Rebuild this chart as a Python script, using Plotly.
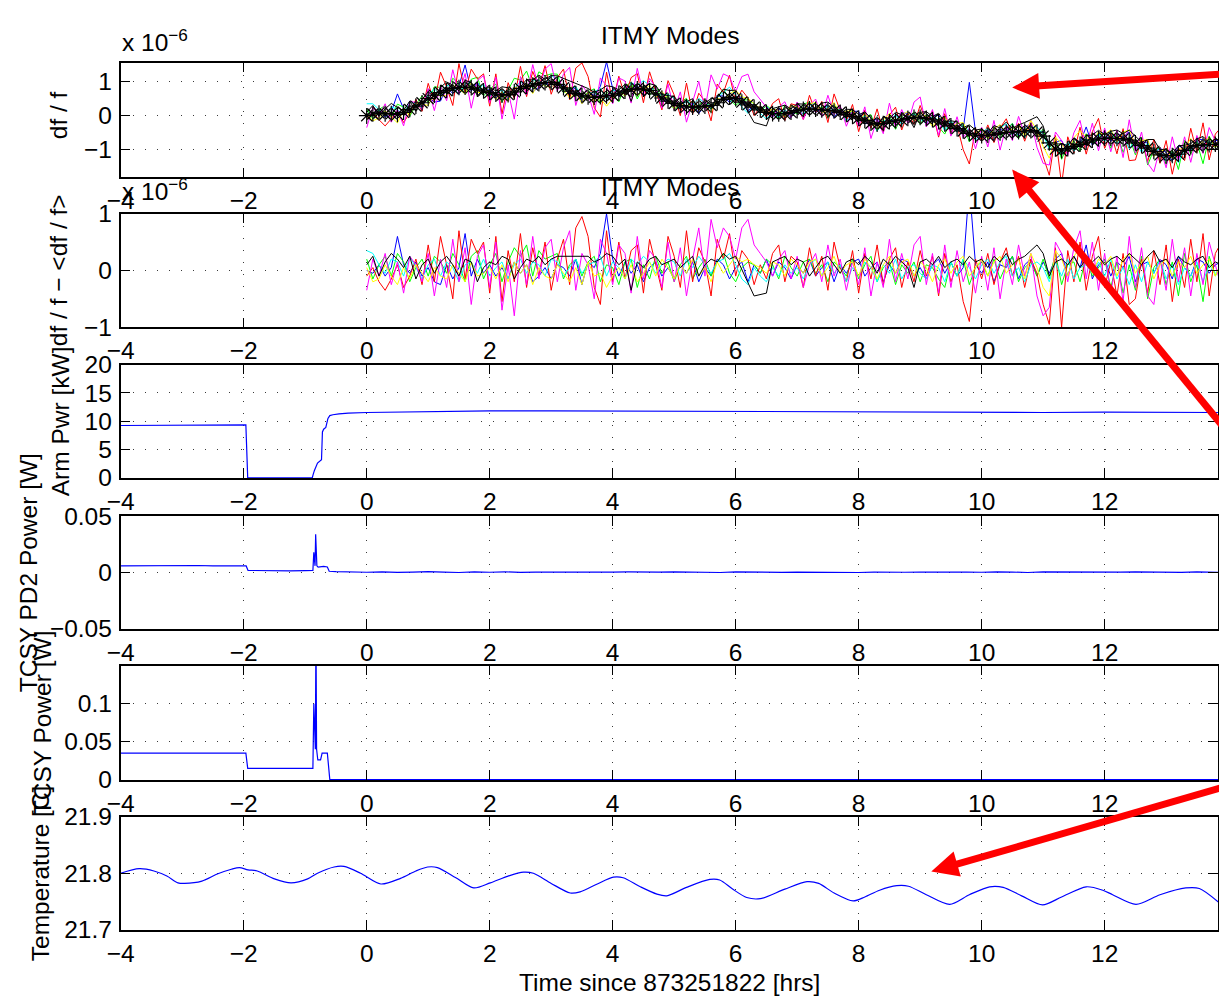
import plotly.graph_objects as go

# The page is captured with a small offset/scale; geometry below is given in
# reference-picture pixels and mapped to figure pixels with this affine fit.
SCALE_X, OFF_X = 0.9884, 13.3
SCALE_Y, OFF_Y = 0.9743, 12.4
W, H = 1220, 1011
FONT = "Liberation Sans, Arial, Helvetica, sans-serif"
FS = 24.5

# ---------------- data ----------------
T_MODES = [round(0.1 * i, 1) for i in range(140)]  # hrs

# mean df/f (units of 1e-6), black asterisk trace
MEAN_DFF = [
    0.00, 0.05, 0.08, 0.05, 0.06, 0.04, 0.10, 0.18, 0.28, 0.38,
    0.50, 0.60, 0.68, 0.74, 0.80, 0.83, 0.84, 0.82, 0.78, 0.73,
    0.68, 0.63, 0.60, 0.62, 0.70, 0.80, 0.86, 0.90, 0.94, 0.97,
    0.98, 0.92, 0.82, 0.72, 0.65, 0.60, 0.55, 0.54, 0.56, 0.58,
    0.60, 0.66, 0.72, 0.77, 0.79, 0.78, 0.74, 0.64, 0.52, 0.43,
    0.36, 0.30, 0.26, 0.25, 0.26, 0.28, 0.30, 0.38, 0.48, 0.54,
    0.50, 0.40, 0.32, 0.25, 0.17, 0.10, 0.06, 0.05, 0.06, 0.10,
    0.15, 0.19, 0.20, 0.19, 0.17, 0.15, 0.14, 0.10, 0.04, -0.02,
    -0.07, -0.14, -0.22, -0.25, -0.23, -0.18, -0.15, -0.12, -0.08, -0.05,
    -0.05, -0.08, -0.12, -0.18, -0.24, -0.30, -0.38, -0.45, -0.52, -0.57,
    -0.59, -0.57, -0.54, -0.51, -0.49, -0.48, -0.47, -0.45, -0.44, -0.48,
    -0.60, -0.80, -0.98, -1.03, -0.97, -0.90, -0.84, -0.78, -0.72, -0.68,
    -0.66, -0.66, -0.67, -0.68, -0.72, -0.80, -0.88, -0.95, -1.05, -1.15,
    -1.18, -1.17, -1.13, -1.02, -0.92, -0.88, -0.86, -0.85, -0.84, -0.83,
]

# deviations from the mean, df/f - <df/f> (units of 1e-6)
DEV_BLUE = [
    0.00, -0.05, 0.10, -0.10, 0.05, 0.60, 0.10, -0.05, 0.15, -0.10,
    0.05, -0.20, -0.25, 0.10, -0.15, 0.05, 0.65, -0.10, 0.20, -0.05,
    0.10, -0.10, 0.05, -0.15, 0.15, -0.05, 0.10, -0.20, -0.10, 0.05,
    -0.15, 0.10, 0.05, -0.10, 0.20, -0.25, 0.15, 0.05, 0.30, 1.00,
    0.20, -0.10, 0.15, -0.05, 0.10, -0.20, 0.05, 0.15, -0.10, 0.05,
    -0.15, 0.10, -0.05, 0.15, -0.20, 0.05, -0.10, 0.20, 0.10, -0.15,
    0.05, 0.15, -0.20, 0.10, -0.05, 0.20, -0.10, 0.15, 0.05, -0.15,
    0.10, -0.05, 0.20, -0.10, 0.05, 0.15, -0.20, 0.10, -0.05, 0.15,
    0.20, -0.10, 0.05, 0.15, -0.20, 0.10, -0.05, 0.20, 0.15, -0.10,
    0.05, -0.15, 0.10, 0.20, -0.05, 0.15, -0.10, 0.05, 1.50, 0.10,
    -0.05, 0.15, -0.20, 0.10, 0.05, 0.25, -0.15, 0.10, 0.20, -0.10,
    0.15, -0.05, 0.20, 0.30, -0.10, 0.25, 0.05, 0.45, -0.15, 0.10,
    0.20, -0.10, 0.15, 0.05, 0.25, -0.20, 0.10, 0.15, -0.05, 0.20,
    0.10, -0.15, 0.25, 0.05, -0.10, 0.20, 0.15, -0.05, 0.10, 0.15,
]
DEV_GREEN = [
    0.20, -0.15, 0.10, 0.25, -0.10, 0.30, 0.15, -0.20, 0.05, 0.20,
    -0.10, 0.25, 0.15, -0.05, 0.30, 0.10, -0.20, 0.25, 0.35, -0.15,
    0.10, 0.30, -0.20, 0.15, 0.40, 0.25, 0.45, -0.10, 0.35, 0.20,
    0.25, 0.30, -0.15, 0.10, 0.20, -0.10, 0.15, 0.25, -0.20, 0.10,
    0.05, -0.25, 0.15, 0.20, -0.30, 0.10, -0.15, 0.25, -0.05, 0.15,
    -0.20, 0.10, 0.25, -0.15, 0.05, 0.20, -0.10, 0.15, 0.30, -0.05,
    -0.20, 0.05, 0.15, 0.10, -0.05, 0.20, 0.10, -0.15, 0.25, 0.05,
    -0.10, 0.15, 0.20, -0.05, 0.10, -0.20, 0.15, 0.05, -0.10, 0.20,
    -0.15, 0.10, 0.25, -0.20, 0.05, 0.15, -0.25, 0.10, -0.05, 0.15,
    -0.20, 0.10, 0.05, -0.15, -0.30, 0.15, -0.10, 0.20, -0.25, 0.05,
    0.15, -0.10, 0.20, -0.15, 0.10, 0.25, -0.20, 0.05, 0.15, -0.10,
    0.20, -0.15, 0.30, -0.25, 0.10, 0.15, -0.20, 0.25, -0.10, 0.05,
    0.20, -0.30, 0.15, -0.40, 0.10, -0.35, 0.25, -0.50, 0.05, 0.20,
    -0.25, 0.15, -0.45, 0.30, -0.20, 0.10, -0.55, 0.25, -0.10, 0.15,
]
DEV_RED = [
    -0.10, 0.05, -0.20, -0.35, -0.15, 0.10, -0.30, -0.10, 0.20, -0.25,
    0.45, -0.20, 0.60, 0.10, -0.50, 0.70, -0.15, 0.55, 0.30, 0.50,
    -0.40, 0.60, -0.55, 0.35, -0.20, 0.65, -0.30, 0.40, -0.10, 0.50,
    -0.35, 0.20, 0.55, -0.25, 0.75, 0.95, 0.60, -0.30, -0.60, 0.70,
    -0.20, 0.50, -0.15, 0.35, 0.45, -0.40, 0.55, 0.10, -0.35, 0.60,
    0.25, -0.30, 0.70, -0.20, 0.40, 0.15, -0.45, 0.55, 0.20, 0.65,
    -0.10, 0.35, 0.20, -0.25, 0.10, -0.15, 0.30, 0.45, -0.20, 0.25,
    0.15, -0.30, 0.40, -0.10, 0.25, -0.35, 0.50, 0.05, -0.20, 0.35,
    -0.40, 0.30, -0.15, 0.45, -0.25, 0.20, 0.40, -0.30, 0.15, -0.20,
    0.35, -0.10, 0.25, -0.45, 0.30, -0.20, 0.10, -0.55, -0.90, 0.20,
    -0.15, 0.30, -0.25, 0.15, 0.40, -0.10, 0.25, -0.30, 0.20, -0.05,
    -0.60, -0.95, 0.40, -1.00, 0.35, -0.20, 0.50, -0.35, 0.25, 0.60,
    -0.30, 0.15, -0.45, 0.30, -0.60, -0.50, 0.20, -0.40, 0.35, -0.25,
    0.45, -0.55, 0.20, -0.30, 0.55, -0.20, 0.65, -0.45, 0.30, 0.50,
]
DEV_CYAN = [
    0.35, 0.30, 0.10, -0.05, 0.20, 0.15, -0.10, 0.25, 0.05, -0.15,
    0.10, 0.20, -0.10, 0.15, 0.05, -0.20, 0.10, 0.15, -0.05, 0.20,
    -0.10, 0.05, 0.15, -0.15, 0.10, 0.20, -0.05, 0.15, 0.10, -0.10,
    0.20, 0.15, -0.10, 0.05, 0.20, -0.05, 0.10, 0.15, 0.25, -0.10,
    0.15, 0.05, -0.15, 0.20, 0.10, 0.25, 0.15, -0.05, 0.10, 0.20,
    0.15, -0.10, 0.20, 0.05, 0.25, 0.10, -0.05, 0.15, 0.20, 0.30,
    0.10, -0.15, -0.25, 0.05, -0.10, -0.20, 0.05, -0.10, 0.10, -0.05,
    0.05, -0.15, 0.10, 0.20, -0.10, 0.15, -0.05, 0.10, -0.20, 0.05,
    -0.10, 0.15, 0.05, -0.20, 0.10, -0.05, 0.20, -0.15, 0.05, 0.10,
    -0.05, -0.15, 0.10, 0.05, -0.20, 0.15, -0.10, 0.20, 0.05, -0.15,
    0.10, 0.20, -0.05, 0.15, 0.25, -0.10, 0.05, -0.20, 0.10, 0.15,
    0.05, -0.20, 0.15, -0.10, 0.20, -0.15, 0.05, 0.10, -0.05, 0.15,
    -0.10, 0.20, -0.15, 0.05, -0.25, 0.10, -0.20, 0.15, -0.05, 0.20,
    -0.15, 0.10, -0.25, 0.05, -0.10, 0.15, -0.20, 0.10, -0.05, 0.05,
]
DEV_MAGENTA = [
    -0.35, 0.20, -0.10, 0.30, -0.25, 0.15, -0.40, 0.25, 0.10, -0.20,
    0.30, -0.45, 0.20, -0.30, 0.55, -0.20, 0.40, -0.60, 0.25, 0.45,
    -0.30, 0.50, -0.70, 0.10, -0.80, 0.35, -0.25, 0.60, -0.15, 0.40,
    0.55, -0.20, 0.40, 0.70, -0.35, 0.30, 0.10, -0.50, 0.55, 0.30,
    -0.25, 0.45, 0.30, -0.40, 0.60, -0.15, 0.35, 0.20, -0.30, 0.50,
    -0.20, 0.40, -0.45, 0.20, 0.75, -0.10, 0.90, 0.40, 0.75, 0.60,
    0.20, 0.75, 0.90, 0.45, 0.30, 0.15, -0.10, 0.20, 0.35, -0.15,
    0.25, -0.30, 0.10, 0.30, -0.20, 0.45, -0.10, 0.20, -0.35, 0.15,
    -0.25, 0.40, -0.45, 0.15, -0.30, 0.55, -0.20, 0.30, -0.15, 0.45,
    0.60, -0.25, 0.30, -0.40, 0.45, -0.30, 0.35, -0.20, 0.15, -0.40,
    0.25, -0.35, 0.40, -0.50, 0.20, -0.25, 0.45, -0.10, 0.30, -0.45,
    -0.80, -0.65, 0.50, 0.30, -0.20, 0.40, 0.70, -0.15, 0.50, -0.35,
    0.30, -0.40, 0.25, -0.55, 0.60, -0.30, 0.40, -0.45, -0.60, 0.20,
    -0.35, 0.55, -0.20, 0.40, -0.45, 0.30, -0.25, 0.50, 0.10, -0.30,
]
DEV_YELLOW = [
    0.05, -0.20, -0.15, 0.10, -0.10, -0.25, 0.05, -0.15, 0.10, -0.05,
    -0.20, 0.05, -0.10, -0.15, 0.10, -0.05, -0.20, 0.15, -0.10, -0.05,
    0.05, -0.15, 0.10, -0.20, 0.15, -0.05, 0.10, -0.25, 0.05, -0.10,
    -0.15, 0.10, -0.05, -0.20, 0.05, -0.25, 0.15, -0.10, -0.05, -0.30,
    -0.10, 0.05, -0.15, 0.10, -0.20, -0.05, 0.15, -0.10, 0.20, 0.05,
    -0.15, 0.10, -0.05, 0.20, -0.10, 0.05, -0.20, 0.15, -0.05, 0.10,
    0.25, 0.15, 0.20, 0.10, 0.05, -0.05, 0.15, 0.10, -0.10, 0.20,
    0.10, -0.05, 0.15, 0.20, -0.10, 0.05, 0.25, -0.05, 0.10, 0.15,
    -0.10, 0.20, 0.05, -0.15, 0.10, 0.25, -0.05, 0.15, 0.20, -0.10,
    0.15, 0.05, -0.20, 0.10, 0.20, -0.05, 0.15, 0.25, -0.10, 0.05,
    0.20, -0.10, 0.15, 0.25, -0.05, 0.10, 0.20, -0.15, 0.30, 0.05,
    -0.30, -0.45, 0.35, 0.20, -0.10, 0.25, 0.40, 0.15, -0.05, 0.20,
    0.10, 0.25, -0.10, 0.20, 0.30, -0.05, 0.15, 0.25, -0.15, 0.10,
    0.20, -0.10, 0.15, 0.05, 0.25, -0.05, 0.10, 0.20, -0.10, 0.15,
]
DEV_BLACK = [
    0.10, 0.25, -0.10, 0.15, 0.30, 0.20, 0.05, 0.25, -0.15, 0.10,
    0.20, -0.05, 0.15, 0.25, 0.10, -0.10, 0.20, 0.15, -0.20, 0.05,
    0.15, 0.10, 0.25, 0.20, -0.15, 0.05, 0.20, 0.15, 0.25, 0.10,
    0.20, 0.25, None, None, None, None, 0.25, 0.15, 0.20, 0.30,
    0.25, 0.10, 0.20, -0.35, 0.15, 0.05, 0.20, 0.25, 0.10, 0.15,
    0.20, 0.05, 0.15, 0.25, -0.10, 0.10, 0.20, 0.15, 0.30, 0.20,
    0.25, None, None, -0.45, None, -0.40, 0.15, 0.20, 0.25, 0.10,
    0.20, 0.15, -0.10, 0.05, 0.20, 0.25, 0.10, -0.05, 0.15, 0.20,
    0.10, 0.25, 0.15, -0.05, 0.20, 0.10, 0.25, 0.15, 0.05, -0.30,
    0.15, 0.20, 0.10, 0.25, 0.05, 0.15, 0.20, 0.10, 0.25, 0.15,
    0.20, 0.05, 0.25, 0.15, 0.30, 0.10, 0.20, 0.25, None, 0.45,
    0.30, -0.10, 0.15, 0.20, 0.10, 0.25, 0.05, 0.20, 0.15, 0.25,
    0.10, 0.20, 0.25, 0.15, 0.30, 0.20, 0.10, 0.25, 0.35, 0.15,
    0.20, 0.05, 0.25, 0.15, 0.10, 0.20, 0.25, 0.05, 0.15, 0.10,
]
MODE_SERIES = [
    ("#0000ff", DEV_BLUE), ("#00ff00", DEV_GREEN), ("#ff0000", DEV_RED),
    ("#00ffff", DEV_CYAN), ("#ff00ff", DEV_MAGENTA), ("#ffff00", DEV_YELLOW),
    ("#000000", DEV_BLACK),
]

# Arm power [kW]
ARM_T = [-4.0, -3.0, -2.0, -1.965, -1.935, -0.885, -0.87, -0.85, -0.80, -0.76,
         -0.735, -0.72, -0.70, -0.665, -0.63, -0.60, -0.55, -0.45, -0.3, 0.0,
         0.5, 1.0, 1.5, 2.0, 3.0, 4.0, 5.0, 6.0, 7.0, 8.0,
         9.0, 10.0, 11.0, 12.0, 13.0, 13.85]
ARM_V = [9.25, 9.3, 9.35, 9.35, 0.0, 0.0, 0.6, 1.3, 2.6, 2.9,
         3.2, 8.1, 8.6, 8.9, 10.5, 11.0, 11.15, 11.3, 11.45, 11.55,
         11.65, 11.75, 11.8, 11.85, 11.85, 11.8, 11.75, 11.7, 11.65, 11.6,
         11.6, 11.6, 11.55, 11.6, 11.55, 11.55]

# TCSY PD2 power [W]
PD2_T = [-4.0, -3.75, -3.5, -3.25, -3.0, -2.75, -2.5, -2.25, -2.0, -1.96,
         -1.93, -1.75, -1.5, -1.25, -1.0, -0.9, -0.875, -0.86, -0.85, -0.84,
         -0.83, -0.82, -0.81, -0.79, -0.75, -0.70, -0.64, -0.61, -0.5, -0.25] \
    + [0.25 * i for i in range(56)] + [13.85]
PD2_V = [0.0060, 0.0061, 0.0058, 0.0062, 0.0060, 0.0063, 0.0059, 0.0061, 0.0060, 0.0059,
         0.0019, 0.0017, 0.0018, 0.0016, 0.0018, 0.0019, 0.0020, 0.0180, 0.0120, 0.0060,
         0.0340, 0.0150, 0.0060, 0.0048, 0.0053, 0.0055, 0.0050, 0.0012, 0.0008, 0.0004,
         0.0003, 0.0006, 0.0002, 0.0005, 0.0008, 0.0004, 0.0001, 0.0006, 0.0003, 0.0007,
         0.0002, 0.0005, 0.0004, 0.0008, 0.0003, 0.0000, 0.0005, 0.0006, 0.0002, 0.0004,
         0.0007, 0.0003, 0.0005, 0.0001, 0.0006, 0.0004, 0.0008, 0.0002, 0.0005, 0.0003,
         0.0006, 0.0004, 0.0001, 0.0005, 0.0007, 0.0003, 0.0004, 0.0006, 0.0002, 0.0005,
         0.0003, 0.0007, 0.0004, 0.0001, 0.0006, 0.0005, 0.0003, 0.0008, 0.0002, 0.0004,
         0.0006, 0.0003, 0.0005, 0.0002, 0.0007, 0.0004, 0.0003]

# TCSY power [W]
TCS_T = [-4.0, -1.965, -1.935, -0.875, -0.86, -0.845, -0.835, -0.825, -0.815, -0.795,
         -0.75, -0.725, -0.64, -0.60, 0.0, 13.85]
TCS_V = [0.035, 0.035, 0.015, 0.015, 0.100, 0.040, 0.040, 0.200, 0.040, 0.026,
         0.026, 0.035, 0.035, 0.0, 0.0, 0.0]

# Temperature [C]
TEMP_T = [-4.0, -3.70, -3.46, -3.25, -3.07, -2.96, -2.68, -2.42, -2.2, -2.07,
          -1.93, -1.78, -1.5, -1.23, -0.96, -0.8, -0.53, -0.37, -0.1, 0.23,
          0.55, 0.8, 0.99, 1.15, 1.45, 1.74, 2.01, 2.3, 2.55, 2.71,
          3.0, 3.31, 3.47, 3.75, 4.01, 4.17, 4.45, 4.72, 4.88, 5.2,
          5.58, 5.74, 5.95, 6.18, 6.40, 6.8, 7.16, 7.35, 7.6, 7.91,
          8.1, 8.34, 8.62, 8.81, 9.1, 9.48, 9.8, 10.13, 10.35, 10.65,
          10.99, 11.3, 11.70, 11.97, 12.13, 12.51, 12.9, 13.32, 13.54, 13.85]
TEMP_V = [21.800, 21.808, 21.804, 21.795, 21.783, 21.782, 21.786, 21.799, 21.807, 21.810,
          21.806, 21.804, 21.790, 21.783, 21.790, 21.800, 21.811, 21.812, 21.800, 21.781,
          21.791, 21.804, 21.811, 21.810, 21.792, 21.774, 21.783, 21.795, 21.802, 21.800,
          21.782, 21.765, 21.767, 21.781, 21.793, 21.792, 21.776, 21.763, 21.760, 21.775,
          21.789, 21.788, 21.772, 21.757, 21.755, 21.772, 21.785, 21.782, 21.765, 21.751,
          21.758, 21.770, 21.778, 21.777, 21.762, 21.745, 21.762, 21.776, 21.775, 21.760,
          21.744, 21.758, 21.776, 21.770, 21.762, 21.745, 21.762, 21.774, 21.773, 21.749]

X_TICKS = [-4, -2, 0, 2, 4, 6, 8, 10, 12]
Y_TICKS = [[-1, 0, 1], [-1, 0, 1], [0, 5, 10, 15, 20], [-0.05, 0, 0.05],
           [0, 0.05, 0.1], [21.7, 21.8, 21.9]]
Y_TICKTEXT = [["\u22121", "0", "1"], ["\u22121", "0", "1"], ["0", "5", "10", "15", "20"],
              ["\u22120.05", "0", "0.05"], ["0", "0.05", "0.1"], ["21.7", "21.8", "21.9"]]
Y_LABELS = ["df / f", "df / f \u2212 &lt;df / f&gt;", "Arm Pwr [kW]", "TCSY PD2 Power [W]",
            "TCSY Power [W]", "Temperature [C]"]
X_LABEL = "Time since 873251822 [hrs]"
TITLE = "ITMY Modes"

# ---------------- layout geometry (reference pixels) ----------------
PANEL_PX = [(62, 176.7), (213, 326.7), (364, 477.3), (515.7, 628.3), (665, 779.3), (816, 929.3)]
Y_RANGES = [(-1.81, 1.56), (-1.002, 1.002), (-0.02, 20.02), (-0.0501, 0.0501),
            (-0.0003, 0.1505), (21.6998, 21.9002)]
AX_LEFT = 120
PX_PER_HR = 61.6
YLAB_POS = [(58, 115), (58, 270), (60, 421), (28, 572), (42, 722), (40, 873)]


def fx(p):
    return (p - OFF_X) / SCALE_X


def fy(p):
    return (p - OFF_Y) / SCALE_Y


def pxx(p):
    return fx(p) / W


def pxy(p):
    return 1 - fy(p) / H


AX_RIGHT_REF = W * SCALE_X + OFF_X
X_RANGE = [-4.003, -4 + (AX_RIGHT_REF - AX_LEFT) / PX_PER_HR]

fig = go.Figure()


def ax(i, kind):
    n = "" if i == 0 else str(i + 1)
    return kind + n


# panel 1: modes + mean
for color, dev in MODE_SERIES:
    y = [None if d is None else m + d for m, d in zip(MEAN_DFF, dev)]
    fig.add_trace(go.Scatter(x=T_MODES, y=y, mode="lines", line=dict(color=color, width=1),
                             connectgaps=True, xaxis="x", yaxis="y", showlegend=False))
fig.add_trace(go.Scatter(x=T_MODES, y=MEAN_DFF, mode="lines+markers",
                         line=dict(color="black", width=1),
                         marker=dict(symbol="asterisk-open", size=13,
                                     line=dict(color="black", width=1.2)),
                         xaxis="x", yaxis="y", showlegend=False))
# panel 2: deviations
for color, dev in MODE_SERIES:
    fig.add_trace(go.Scatter(x=T_MODES, y=dev, mode="lines", line=dict(color=color, width=1),
                             connectgaps=True, xaxis="x2", yaxis="y2", showlegend=False))
# panels 3-6
fig.add_trace(go.Scatter(x=ARM_T, y=ARM_V, mode="lines", line=dict(color="#0000ff", width=1.2),
                         xaxis="x3", yaxis="y3", showlegend=False))
fig.add_trace(go.Scatter(x=PD2_T, y=PD2_V, mode="lines", line=dict(color="#0000ff", width=1.2),
                         xaxis="x4", yaxis="y4", showlegend=False))
fig.add_trace(go.Scatter(x=TCS_T, y=TCS_V, mode="lines", line=dict(color="#0000ff", width=1.2),
                         xaxis="x5", yaxis="y5", showlegend=False))
fig.add_trace(go.Scatter(x=TEMP_T, y=TEMP_V, mode="lines",
                         line=dict(color="#0000ff", width=1.2, shape="spline", smoothing=0.8),
                         xaxis="x6", yaxis="y6", showlegend=False))

common = dict(showline=True, linecolor="black", linewidth=1.5, mirror="ticks",
              ticks="inside", ticklen=10, tickwidth=1, tickcolor="black",
              showgrid=True, gridcolor="#3a3a3a", gridwidth=1, griddash="1px,11px",
              zeroline=False, tickfont=dict(size=FS, color="black", family=FONT))

layout = {}
for i, (top, bot) in enumerate(PANEL_PX):
    layout[ax(i, "xaxis")] = dict(common, domain=[pxx(AX_LEFT), 1.0], range=X_RANGE,
                                  anchor=ax(i, "y"), tickmode="array", tickvals=X_TICKS,
                                  ticktext=[str(v).replace("-", "\u2212") for v in X_TICKS],
                                  ticklabelstandoff=1)
    layout[ax(i, "yaxis")] = dict(common, domain=[pxy(bot), pxy(top)], range=list(Y_RANGES[i]),
                                  anchor=ax(i, "x"), tickmode="array", tickvals=Y_TICKS[i],
                                  ticktext=Y_TICKTEXT[i], ticklabelstandoff=2)

annotations = []
for (x, y), txt in zip(YLAB_POS, Y_LABELS):
    annotations.append(dict(x=pxx(x), y=pxy(y), xref="paper", yref="paper", text=txt,
                            textangle=-90, showarrow=False, xanchor="center", yanchor="middle",
                            font=dict(size=FS, family=FONT, color="black")))
for ty in (35, 187):
    annotations.append(dict(x=pxx(670), y=pxy(ty), xref="paper", yref="paper", text=TITLE,
                            showarrow=False, xanchor="center", yanchor="middle",
                            font=dict(size=FS, family=FONT, color="black")))
for ey in (40, 189):
    annotations.append(dict(x=pxx(119), y=pxy(ey), xref="paper", yref="paper",
                            text="x 10<sup>\u22126</sup>", showarrow=False,
                            xanchor="left", yanchor="middle",
                            font=dict(size=FS, family=FONT, color="black")))
annotations.append(dict(x=pxx(670), y=pxy(982), xref="paper", yref="paper", text=X_LABEL,
                        showarrow=False, xanchor="center", yanchor="middle",
                        font=dict(size=FS, family=FONT, color="black")))

shapes = []
# red arrows (tail px, tip px) in reference pixels
ARROWS = [((1230, 73), (1013, 87)), ((1230, 433), (1013, 169)), ((1230, 785), (932, 871))]
HEAD_LEN, HEAD_HALF = 27, 13
for (tx, ty), (hx, hy) in ARROWS:
    dx, dy = hx - tx, hy - ty
    L = (dx * dx + dy * dy) ** 0.5
    ux, uy = dx / L, dy / L
    bx, by = hx - ux * HEAD_LEN, hy - uy * HEAD_LEN
    nx, ny = -uy, ux
    c1 = (bx + nx * HEAD_HALF, by + ny * HEAD_HALF)
    c2 = (bx - nx * HEAD_HALF, by - ny * HEAD_HALF)
    shapes.append(dict(type="line", xref="paper", yref="paper", x0=pxx(tx), y0=pxy(ty),
                       x1=pxx(bx + ux * 3), y1=pxy(by + uy * 3),
                       line=dict(color="#ff0000", width=7), layer="above"))
    path = (f"M {pxx(hx)},{pxy(hy)} L {pxx(c1[0])},{pxy(c1[1])} "
            f"L {pxx(c2[0])},{pxy(c2[1])} Z")
    shapes.append(dict(type="path", xref="paper", yref="paper", path=path,
                       fillcolor="#ff0000", line=dict(color="rgba(0,0,0,0)", width=0),
                       layer="above"))

fig.update_layout(width=W, height=H, margin=dict(l=0, r=0, t=0, b=0),
                  paper_bgcolor="white", plot_bgcolor="white",
                  font=dict(family=FONT, size=FS, color="black"),
                  showlegend=False, annotations=annotations, shapes=shapes, **layout)

fig.write_html("out.html")
